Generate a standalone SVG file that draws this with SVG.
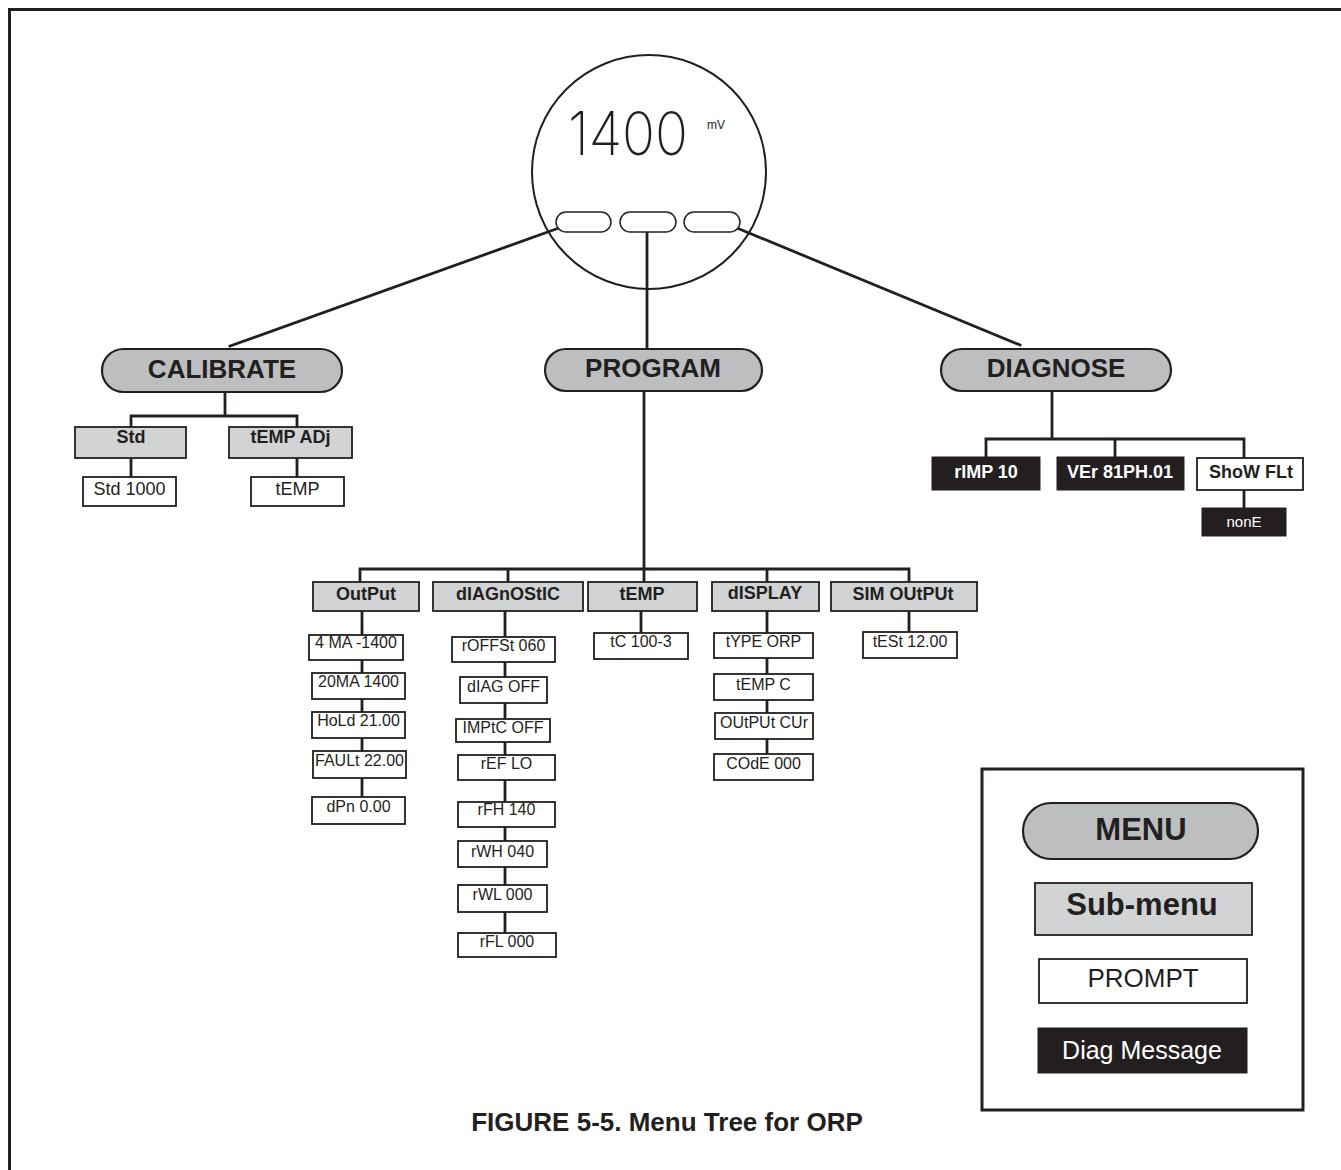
<svg xmlns="http://www.w3.org/2000/svg" width="1341" height="1170" viewBox="0 0 1341 1170">
<style>
.ln{stroke:#231f20;stroke-width:2.8;fill:none;stroke-linecap:square}
.pill{fill:#bcbec0;stroke:#231f20;stroke-width:2.2}
.sub{fill:#d1d3d4;stroke:#231f20;stroke-width:1.8}
.pr{fill:#fff;stroke:#231f20;stroke-width:1.8}
.dg{fill:#231f20;stroke:#231f20;stroke-width:1}
text{font-family:"Liberation Sans",Arial,Helvetica,sans-serif;fill:#231f20;text-anchor:middle}
.tm{font-size:26px;font-weight:bold}
.ts{font-size:18px;font-weight:bold}
.tp{font-size:16px}
.tc{font-size:18px}
.tw{fill:#fff}
</style>
<rect width="1341" height="1170" fill="#fff"/>
<path d="M9.5,1170 V9.5 H1341" fill="none" stroke="#231f20" stroke-width="3"/>

<g id="connectors">
<line class="ln" x1="559" y1="228" x2="230" y2="346"/>
<line class="ln" x1="647" y1="233" x2="647" y2="349"/>
<line class="ln" x1="737" y1="228" x2="1020" y2="345"/>
<path class="ln" d="M225,392 V416 M131,416 H297 M131,416 V427 M297,416 V427 M131,458 V477 M297,458 V477"/>
<path class="ln" d="M1052,391 V439 M986,439 H1244 M986,439 V457 M1115,439 V457 M1244,439 V458 M1244,490 V508"/>
<path class="ln" d="M644,391 V569 M360,569 H909 M360,569 V582 M508,569 V582 M644,569 V582 M767,569 V582 M909,569 V582"/>
<path class="ln" d="M362,611 V797 M505,611 V933 M641,611 V633 M767,611 V754 M909,611 V632"/>
</g>

<g id="display">
<circle cx="649" cy="172" r="117" fill="none" stroke="#231f20" stroke-width="2"/>
<text x="628" y="155" font-size="60" font-weight="200" textLength="120" lengthAdjust="spacingAndGlyphs" style="font-family:Inter,'Noto Sans',sans-serif">1400</text>
<text x="716" y="129" font-size="12">mV</text>
<rect x="556" y="212" width="55" height="20" rx="10" fill="#fff" stroke="#231f20" stroke-width="1.5"/>
<rect x="620" y="212" width="56" height="20" rx="10" fill="#fff" stroke="#231f20" stroke-width="1.5"/>
<rect x="684" y="212" width="56" height="20" rx="10" fill="#fff" stroke="#231f20" stroke-width="1.5"/>
</g>

<g id="calibrate">
<rect class="pill" x="102" y="349" width="240" height="43" rx="21.5"/>
<text class="tm" x="222" y="378">CALIBRATE</text>
</g>
<g id="cal-std"><rect class="sub" x="75" y="427" width="111" height="31"/><text class="ts" x="131" y="443">Std</text></g>
<g id="cal-tempadj"><rect class="sub" x="229" y="427" width="123" height="31"/><text class="ts" x="290.5" y="443">tEMP ADj</text></g>
<g id="cal-std1000"><rect class="pr" x="83" y="477" width="93" height="29"/><text class="tc" x="129.5" y="495">Std 1000</text></g>
<g id="cal-temp"><rect class="pr" x="251" y="477" width="93" height="29"/><text class="tc" x="297.5" y="495">tEMP</text></g>

<g id="program">
<rect class="pill" x="545" y="349" width="217" height="42" rx="21"/>
<text class="tm" x="653" y="377">PROGRAM</text>
</g>

<g id="diagnose">
<rect class="pill" x="941" y="349" width="230" height="42" rx="21"/>
<text class="tm" x="1056" y="377">DIAGNOSE</text>
</g>
<g id="d-rimp"><rect class="dg" x="932" y="457" width="108" height="33"/><text class="ts tw" x="986" y="478">rIMP 10</text></g>
<g id="d-ver"><rect class="dg" x="1057" y="457" width="127" height="33"/><text class="ts tw" x="1120" y="478">VEr 81PH.01</text></g>
<g id="d-show"><rect class="pr" x="1197" y="458" width="106" height="32"/><text class="ts" x="1251" y="478">ShoW FLt</text></g>
<g id="d-none"><rect class="dg" x="1202" y="508" width="84" height="28"/><text class="tw" x="1244" y="527" font-size="15">nonE</text></g>

<g id="p-output"><rect class="sub" x="313" y="582" width="106" height="29"/><text class="ts" x="366" y="600">OutPut</text></g>
<g id="p-diagnostic"><rect class="sub" x="433" y="582" width="150" height="29"/><text class="ts" x="508" y="600">dIAGnOStIC</text></g>
<g id="p-temp"><rect class="sub" x="588" y="582" width="109" height="29"/><text class="ts" x="642" y="600">tEMP</text></g>
<g id="p-display"><rect class="sub" x="712" y="582" width="107" height="29"/><text class="ts" x="765" y="599">dISPLAY</text></g>
<g id="p-simoutput"><rect class="sub" x="831" y="582" width="146" height="29"/><text class="ts" x="903" y="600">SIM OUtPUt</text></g>

<g id="o1"><rect class="pr" x="309" y="635" width="94" height="25"/><text class="tp" x="356" y="648">4 MA -1400</text></g>
<g id="o2"><rect class="pr" x="312" y="673" width="93" height="26"/><text class="tp" x="358.5" y="687">20MA 1400</text></g>
<g id="o3"><rect class="pr" x="312" y="712" width="93" height="26"/><text class="tp" x="358.5" y="726">HoLd 21.00</text></g>
<g id="o4"><rect class="pr" x="313" y="751" width="93" height="27"/><text class="tp" x="359.5" y="766">FAULt 22.00</text></g>
<g id="o5"><rect class="pr" x="312" y="797" width="93" height="27"/><text class="tp" x="358.5" y="812">dPn 0.00</text></g>

<g id="g1"><rect class="pr" x="452" y="637" width="103" height="25"/><text class="tp" x="503.5" y="651">rOFFSt 060</text></g>
<g id="g2"><rect class="pr" x="460" y="677" width="87" height="26"/><text class="tp" x="503.5" y="692">dIAG OFF</text></g>
<g id="g3"><rect class="pr" x="456" y="719" width="94" height="23"/><text class="tp" x="503" y="733">IMPtC OFF</text></g>
<g id="g4"><rect class="pr" x="458" y="755" width="97" height="25"/><text class="tp" x="506.5" y="769">rEF LO</text></g>
<g id="g5"><rect class="pr" x="458" y="802" width="97" height="25"/><text class="tp" x="506.5" y="815">rFH 140</text></g>
<g id="g6"><rect class="pr" x="458" y="841" width="89" height="26"/><text class="tp" x="502.5" y="857">rWH 040</text></g>
<g id="g7"><rect class="pr" x="458" y="885" width="89" height="27"/><text class="tp" x="502.5" y="900">rWL 000</text></g>
<g id="g8"><rect class="pr" x="458" y="933" width="98" height="24"/><text class="tp" x="507" y="947">rFL 000</text></g>

<g id="t1"><rect class="pr" x="594" y="633" width="94" height="26"/><text class="tp" x="641" y="647">tC 100-3</text></g>

<g id="s1"><rect class="pr" x="714" y="633" width="99" height="25"/><text class="tp" x="763.5" y="647">tYPE ORP</text></g>
<g id="s2"><rect class="pr" x="714" y="674" width="99" height="26"/><text class="tp" x="763.5" y="690">tEMP C</text></g>
<g id="s3"><rect class="pr" x="715" y="713" width="98" height="26"/><text class="tp" x="764" y="728">OUtPUt CUr</text></g>
<g id="s4"><rect class="pr" x="714" y="754" width="99" height="26"/><text class="tp" x="763.5" y="769">COdE 000</text></g>

<g id="m1"><rect class="pr" x="863" y="632" width="94" height="26"/><text class="tp" x="910" y="647">tESt 12.00</text></g>

<g id="legend">
<rect x="982" y="769" width="321" height="341" fill="#fff" stroke="#231f20" stroke-width="3"/>
<rect class="pill" x="1023" y="803" width="235" height="56" rx="28"/>
<text x="1141" y="840" font-size="31" font-weight="bold">MENU</text>
<rect class="sub" x="1035" y="883" width="217" height="52" stroke-width="2.2"/>
<text x="1142" y="915" font-size="31" font-weight="bold">Sub-menu</text>
<rect class="pr" x="1039" y="959" width="208" height="44" stroke-width="2"/>
<text x="1143" y="987" font-size="26">PROMPT</text>
<rect class="dg" x="1038" y="1028" width="209" height="45"/>
<text class="tw" x="1142" y="1059" font-size="25">Diag Message</text>
</g>

<text x="667" y="1131" font-size="26" font-weight="bold">FIGURE 5-5. Menu Tree for ORP</text>
</svg>
